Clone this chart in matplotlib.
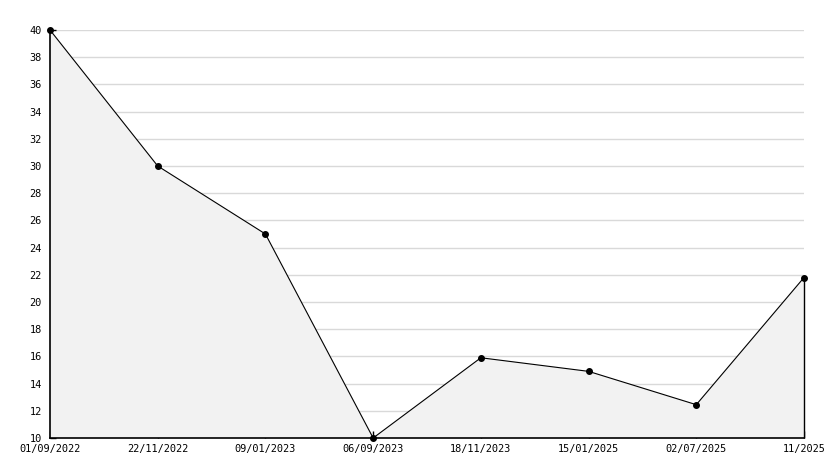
import matplotlib
matplotlib.use("Agg")
import matplotlib.pyplot as plt
from matplotlib.ticker import MultipleLocator

dates = ["01/09/2022", "22/11/2022", "09/01/2023", "06/09/2023",
         "18/11/2023", "15/01/2025", "02/07/2025", "11/2025"]
values = [40, 30, 25, 10, 15.9, 14.9, 12.45, 21.8]
y_grid = list(range(12, 41, 2))

W, H = 834, 468
fig = plt.figure(figsize=(W / 100, H / 100), dpi=100)
ax = fig.add_axes([50 / W, 30 / H, (804 - 50) / W, (438 - 30) / H])

x = list(range(len(values)))
ax.set_xlim(0, len(values) - 1)
ax.set_ylim(10, 40)

ax.yaxis.set_major_locator(MultipleLocator(2))
ax.yaxis.set_minor_locator(MultipleLocator(1))

for g in y_grid:
    ax.axhline(g, color="#d9d9d9", linewidth=1.0, zorder=1)

ax.fill_between(x, values, 10, facecolor="#f2f2f2", edgecolor="none",
                zorder=2, linewidth=0)
ax.plot(x, values, color="black", linewidth=0.8, marker="o", markersize=4,
        zorder=4, clip_on=False)
ax.vlines(x[-1], 10, values[-1], color="black", linewidth=1.0, zorder=4,
          clip_on=False)

ax.set_xticks(x)
ax.set_xticklabels(dates)

for s in ["top", "right"]:
    ax.spines[s].set_visible(False)
for s in ["left", "bottom"]:
    ax.spines[s].set_linewidth(1.2)
    ax.spines[s].set_zorder(5)

for lbl in ax.get_xticklabels() + ax.get_yticklabels():
    lbl.set_fontfamily("DejaVu Sans Mono")
    lbl.set_fontsize(7.4)

ax.tick_params(axis="y", which="major", direction="in", length=4, width=1, pad=6)
ax.tick_params(axis="y", which="minor", direction="in", length=3, width=1)
ax.tick_params(axis="x", which="major", direction="in", length=5, width=1, pad=4.5)

fig.savefig("out.png", dpi=100)
